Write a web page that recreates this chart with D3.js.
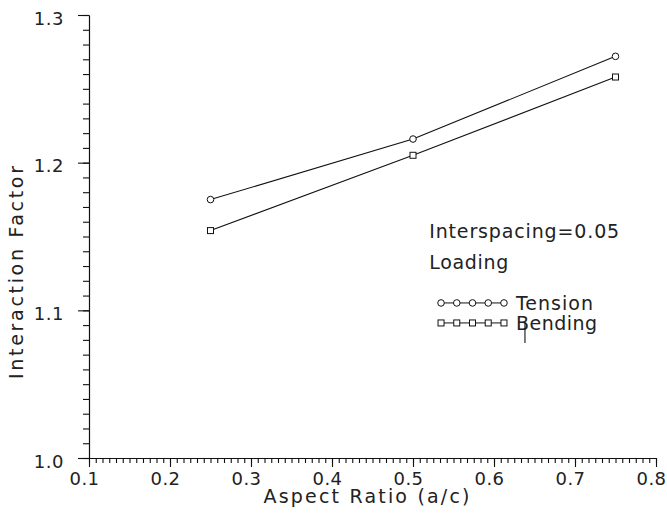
<!DOCTYPE html>
<html>
  <head>
    <title>Interaction Factor</title>
    <script src="https://cdn.jsdelivr.net/npm/d3@7"></script>
    <style>
      body { margin: 0; background: #ffffff; }
      text { font-family: "DejaVu Sans", sans-serif; fill: #222; }
    </style>
  </head>
  <body>
    <svg width="667" height="517" id="mainsvg"></svg>
    <script>
        // data
        const aspectRatios = [0.25, 0.5, 0.75];
        const tension = [1.175, 1.216, 1.272];
        const bending = [1.154, 1.205, 1.258];
        const seriesNames = ['Tension', 'Bending'];
        const xTicks = [0.1, 0.2, 0.3, 0.4, 0.5, 0.6, 0.7, 0.8];
        const yTicks = [1.0, 1.1, 1.2, 1.3];
        const xLabel = 'Aspect Ratio (a/c)';
        const yLabel = 'Interaction Factor';
        const noteLines = ['Interspacing=0.05', 'Loading'];

        const svg = d3.select('#mainsvg');
        const margin = {top: 15, right: 11, bottom: 59, left: 89};
        const width = +svg.attr('width');
        const height = +svg.attr('height');
        const innerWidth = width - margin.left - margin.right;
        const innerHeight = height - margin.top - margin.bottom;

        const xScale = d3.scaleLinear().domain([0.1, 0.8]).range([0, innerWidth]);
        const yScale = d3.scaleLinear().domain([1.0, 1.3]).range([innerHeight, 0]);

        const g = svg.append('g')
            .attr('transform', `translate(${margin.left}, ${margin.top})`);

        // minor ticks: 12 per 0.1 on x, 10 per 0.1 on y
        const xMinor = d3.range(0, 85).map(i => 0.1 + i * 0.1 / 12);
        const yMinor = d3.range(0, 31).map(i => 1.0 + i * 0.01);

        const xMinorAxis = d3.axisBottom(xScale).tickValues(xMinor).tickSize(5).tickSizeOuter(0);
        const yMinorAxis = d3.axisLeft(yScale).tickValues(yMinor).tickSize(6).tickSizeOuter(0);
        const xAxis = d3.axisBottom(xScale).tickValues(xTicks).tickSize(9).tickSizeOuter(0)
            .tickPadding(5).tickFormat(d3.format('.1f'));
        const yAxis = d3.axisLeft(yScale).tickValues(yTicks).tickSize(11).tickSizeOuter(0)
            .tickPadding(14).tickFormat(d3.format('.1f'));

        const styleAxis = function(sel){
            sel.selectAll('line').attr('stroke', '#111').attr('stroke-width', 1.1);
            sel.selectAll('.domain').attr('stroke', '#111').attr('stroke-width', 1.1);
            sel.selectAll('text')
                .style('font-family', '"DejaVu Sans", sans-serif')
                .attr('font-size', 18).attr('letter-spacing', 0.5).attr('fill', '#222');
        };

        g.append('g').attr('transform', `translate(0, ${innerHeight})`).call(xMinorAxis).call(styleAxis)
            .selectAll('text').remove();
        g.append('g').call(yMinorAxis).call(styleAxis)
            .selectAll('text').remove();
        const xAxisGroup = g.append('g').attr('transform', `translate(0, ${innerHeight})`).call(xAxis).call(styleAxis);
        xAxisGroup.selectAll('.tick text').attr('x', -5).attr('y', 27).attr('dy', null);
        const yAxisGroup = g.append('g').call(yAxis).call(styleAxis);
        yAxisGroup.selectAll('.tick text').attr('y', 9).attr('dy', null);

        // axis titles
        g.append('text')
            .attr('x', innerWidth / 2 - 6)
            .attr('y', innerHeight + 45)
            .attr('text-anchor', 'middle')
            .attr('font-size', 19)
            .attr('textLength', 206).attr('lengthAdjust', 'spacing')
            .text(xLabel);
        g.append('text')
            .attr('transform', `translate(${-66}, ${innerHeight / 2 + 36}) rotate(-90)`)
            .attr('text-anchor', 'middle')
            .attr('font-size', 19)
            .attr('textLength', 213).attr('lengthAdjust', 'spacing')
            .text(yLabel);

        // series lines and markers
        const series = [
            {name: seriesNames[0], values: tension, marker: 'circle', width: 77},
            {name: seriesNames[1], values: bending, marker: 'square', width: 81}
        ];
        const line = d3.line()
            .x((d, i) => xScale(aspectRatios[i]))
            .y(d => yScale(d));

        const drawMarker = function(sel, kind, cx, cy){
            if(kind === 'circle'){
                sel.append('circle').attr('cx', cx).attr('cy', cy).attr('r', 3.3)
                    .attr('fill', 'white').attr('stroke', '#111').attr('stroke-width', 1);
            }else{
                sel.append('rect').attr('x', cx - 3).attr('y', cy - 3).attr('width', 6).attr('height', 6)
                    .attr('fill', 'white').attr('stroke', '#111').attr('stroke-width', 1);
            }
        };

        series.forEach(s => {
            g.append('path')
                .attr('d', line(s.values))
                .attr('fill', 'none')
                .attr('stroke', '#111')
                .attr('stroke-width', 1.1);
            s.values.forEach((v, i) => drawMarker(g, s.marker, xScale(aspectRatios[i]), yScale(v)));
        });

        // annotation text
        const noteX = xScale(0.52);
        const noteWidths = [190, 79];
        noteLines.forEach((t, i) => {
            g.append('text')
                .attr('x', noteX)
                .attr('y', yScale(1.149) + i * 31)
                .attr('font-size', 19)
                .attr('textLength', noteWidths[i]).attr('lengthAdjust', 'spacing')
                .text(t);
        });

        // legend
        const legX0 = xScale(0.5346);
        const legX1 = xScale(0.6123);
        series.forEach((s, k) => {
            const ly = yScale(1.105) + k * 20;
            g.append('line').attr('x1', legX0).attr('x2', legX1).attr('y1', ly).attr('y2', ly)
                .attr('stroke', '#111').attr('stroke-width', 1);
            d3.range(5).forEach(j => drawMarker(g, s.marker, legX0 + j * (legX1 - legX0) / 4, ly));
            g.append('text')
                .attr('x', legX1 + 12)
                .attr('y', ly + 7)
                .attr('font-size', 19)
                .attr('textLength', s.width).attr('lengthAdjust', 'spacing')
                .text(s.name);
            // stray stroke through the "B" of the second entry
            if(k === 1){
                g.append('line')
                    .attr('x1', legX1 + 21).attr('x2', legX1 + 21)
                    .attr('y1', ly - 1).attr('y2', ly + 20)
                    .attr('stroke', '#111').attr('stroke-width', 1.1);
            }
        });
    </script>
  </body>
</html>
